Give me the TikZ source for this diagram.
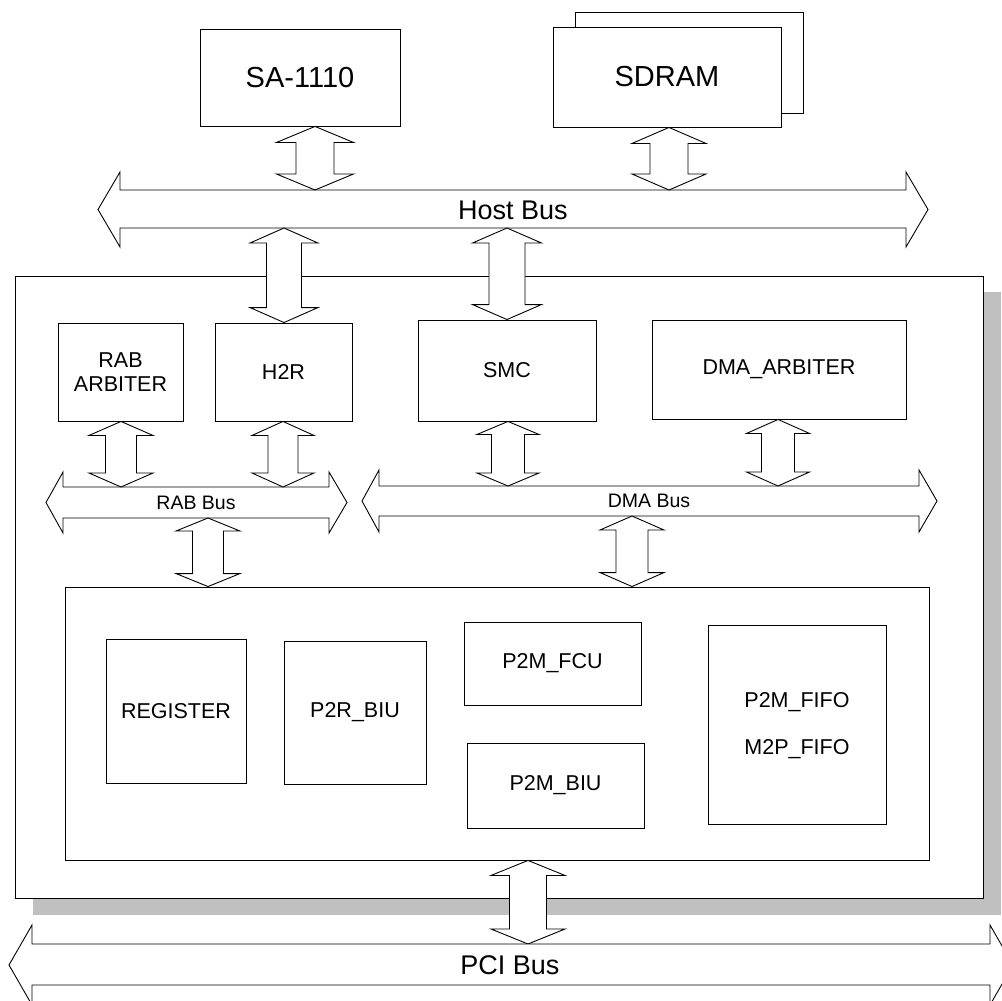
\documentclass[tikz,border=0pt]{standalone}
\usepackage{fontspec}
\setmainfont{Liberation Sans}
\usetikzlibrary{fit,calc}
\definecolor{shadowgray}{HTML}{C0C0C0}
\tikzset{
 box/.style={draw=black, line width=0.9pt, fill=white, inner sep=0pt},
 fat/.style={draw=black, line width=0.9pt, fill=white, line join=miter},
 bigfont/.style={font=\fontsize{29}{34}\selectfont},
 busfont/.style={font=\fontsize{27}{32}\selectfont},
 lblfont/.style={font=\fontsize{21.5}{23.5}\selectfont},
 smallbus/.style={font=\fontsize{19.5}{22}\selectfont},
}
% fat vertical double arrow: #1 x centre, #2 top point, #3 bottom point,
% #4 head half width, #5 shaft half width, #6 head length
\newcommand{\vfat}[6]{\draw[fat] let \p1=(#2), \p2=(#3) in
 (#1pt,\y1) -- (#1pt+#4pt,\y1-#6pt) -- (#1pt+#5pt,\y1-#6pt) -- (#1pt+#5pt,\y2+#6pt) --
 (#1pt+#4pt,\y2+#6pt) -- (#1pt,\y2) -- (#1pt-#4pt,\y2+#6pt) -- (#1pt-#5pt,\y2+#6pt) --
 (#1pt-#5pt,\y1-#6pt) -- (#1pt-#4pt,\y1-#6pt) -- cycle;}
\begin{document}
\begin{tikzpicture}[x=1pt,y=-1pt]
\clip (0,0) rectangle (1002,1001);
\fill[white] (0,0) rectangle (1002,1001);
% ---- top devices
\node[box, fit={(200,29)(400,126)}] (sa) {};
\node[bigfont] (salbl) at (sa.center) {SA-1110};
\node[box, fit={(575,12)(803,113)}] (sdramback) {};
\node[box, fit={(553,27)(781,127)}] (sdram) {};
\node[bigfont] (sdramlbl) at (sdram.center) {SDRAM};
% ---- host bus
\draw[fat] (98,209.5) -- (120,172) -- (120,190) -- (906,190) -- (906,172) -- (928,209.5)
 -- (906,247) -- (906,228) -- (120,228) -- (120,247) -- cycle;
\node[busfont] (hostlbl) at (513,210) {Host Bus};
\coordinate (hostT) at (513,190);
\coordinate (hostB) at (513,228);
\vfat{315}{sa.south}{hostT}{38.5}{19}{16}
\vfat{669}{sdram.south}{hostT}{37}{19}{16}
% ---- main chip with shadow
\fill[shadowgray] (33,292) rectangle (1001,915);
\node[box, fit={(15,276)(983,898)}] (main) {};
\node[box, fit={(58,323)(183,421)}] (rabarb) {};
\node[lblfont, align=center] (rabarblbl) at (rabarb.center) {RAB\\ARBITER};
\node[box, fit={(215,323)(352,421)}] (h2r) {};
\node[lblfont] (h2rlbl) at (h2r.center) {H2R};
\node[box, fit={(418,320)(596,421)}] (smc) {};
\node[lblfont] (smclbl) at (smc.center) {SMC};
\node[box, fit={(652,320)(906,419)}] (dmaarb) {};
\node[lblfont] (dmaarblbl) at (dmaarb.center) {DMA\_ARBITER};
\vfat{284}{hostB}{h2r.north}{34}{17.5}{15}
\vfat{507}{hostB}{smc.north}{34.5}{18}{15}
% ---- RAB bus
\draw[fat] (46,502.5) -- (63,472) -- (63,487) -- (329,487) -- (329,472) -- (347,502.5)
 -- (329,533) -- (329,518) -- (63,518) -- (63,533) -- cycle;
\node[smallbus] (rablbl) at (196,502.5) {RAB Bus};
\coordinate (rabT) at (196,487);
\coordinate (rabB) at (196,518);
% ---- DMA bus
\draw[fat] (362,501) -- (379,470) -- (379,486) -- (919,486) -- (919,470) -- (937,501)
 -- (919,532) -- (919,516) -- (379,516) -- (379,532) -- cycle;
\node[smallbus] (dmalbl) at (649,501) {DMA Bus};
\coordinate (dmaT) at (649,486);
\coordinate (dmaB) at (649,516);
\vfat{121}{rabarb.south}{rabT}{32}{15.5}{14}
\vfat{283}{h2r.south}{rabT}{31}{15}{14}
\vfat{508}{smc.south}{dmaT}{31}{16.5}{13}
\vfat{778}{dmaarb.south}{dmaT}{31.5}{16.5}{14}
% ---- inner block
\node[box, fit={(65,587)(929,860)}] (inner) {};
\vfat{208}{rabB}{inner.north}{32}{15.5}{13}
\vfat{632}{dmaB}{inner.north}{32}{16}{14}
\node[box, fit={(106,639)(246,783)}] (reg) {};
\node[lblfont] (reglbl) at (reg.center) {REGISTER};
\node[box, fit={(284,641)(426,784)}] (p2rbiu) {};
\node[lblfont] (p2rbiulbl) at (p2rbiu.center) {P2R\_BIU};
\node[box, fit={(464,622)(641,705)}] (p2mfcu) {};
\node[lblfont] (p2mfculbl) at (p2mfcu.center) {P2M\_FCU};
\node[box, fit={(467,743)(644,828)}] (p2mbiu) {};
\node[lblfont] (p2mbiulbl) at (p2mbiu.center) {P2M\_BIU};
\node[box, fit={(708,625)(886,824)}] (fifo) {};
\node[lblfont] (fifo1) at (797,702) {P2M\_FIFO};
\node[lblfont] (fifo2) at (797,749) {M2P\_FIFO};
% ---- PCI bus
\coordinate (pciT) at (510,944);
\vfat{528}{inner.south}{pciT}{37}{18.5}{15}
\draw[fat] (9,965) -- (32,925) -- (32,944) -- (990,944) -- (990,925) -- (1013,965)
 -- (990,1005) -- (990,985) -- (32,985) -- (32,1005) -- cycle;
\node[busfont] (pcilbl) at (510,965) {PCI Bus};
\end{tikzpicture}
\end{document}
